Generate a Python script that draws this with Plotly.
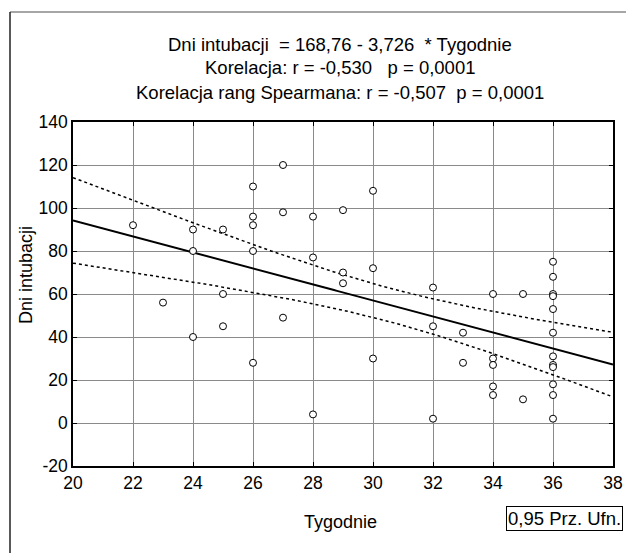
import numpy as np
import plotly.graph_objects as go

# Data
tygodnie = [22, 23, 24, 24, 24, 25, 25, 25, 26, 26, 26, 26, 26, 27, 27, 27,
            28, 28, 28, 29, 29, 29, 30, 30, 30, 32, 32, 32, 33, 33,
            34, 34, 34, 34, 34, 35, 35,
            36, 36, 36, 36, 36, 36, 36, 36, 36, 36, 36, 36]
dni_intubacji = [92, 56, 90, 80, 40, 90, 60, 45, 110, 96, 92, 80, 28, 120, 98, 49,
                 96, 77, 4, 99, 70, 65, 108, 72, 30, 63, 45, 2, 42, 28,
                 60, 30, 27, 17, 13, 60, 11,
                 75, 68, 60, 59, 53, 42, 31, 27, 26, 18, 13, 2]

# Regression coefficients printed on the chart
intercept = 168.76
slope = -3.726
t_crit = 2.01  # ~t(0.975, n-2)

x_ticks = [20, 22, 24, 26, 28, 30, 32, 34, 36, 38]
y_ticks = [-20, 0, 20, 40, 60, 80, 100, 120, 140]

NB = "\u00a0"
title_lines = [
    "Dni intubacji" + NB * 2 + "= 168,76 - 3,726" + NB * 2 + "* Tygodnie",
    "Korelacja: r = -0,530" + NB * 3 + "p = 0,0001",
    "Korelacja rang Spearmana: r = -0,507" + NB * 2 + "p = 0,0001",
]

# Confidence band for the regression line
xa = np.array(tygodnie, dtype=float)
ya = np.array(dni_intubacji, dtype=float)
n = len(xa)
resid = ya - (intercept + slope * xa)
s = np.sqrt(np.sum(resid ** 2) / (n - 2))
xbar = xa.mean()
sxx = np.sum((xa - xbar) ** 2)
xl = np.linspace(20, 38, 181)
yl = intercept + slope * xl
half = t_crit * s * np.sqrt(1.0 / n + (xl - xbar) ** 2 / sxx)

FONT = "Liberation Sans, Arial, Helvetica, sans-serif"
FS_TICK = 17.5
FS_TEXT = 18.5

fig = go.Figure()
fig.add_trace(go.Scatter(x=xl, y=yl + half, mode="lines",
                         line=dict(color="black", width=1.5, dash="dot"),
                         hoverinfo="skip", showlegend=False))
fig.add_trace(go.Scatter(x=xl, y=yl - half, mode="lines",
                         line=dict(color="black", width=1.5, dash="dot"),
                         hoverinfo="skip", showlegend=False))
fig.add_trace(go.Scatter(x=xl, y=yl, mode="lines",
                         line=dict(color="black", width=2),
                         hoverinfo="skip", showlegend=False))
fig.add_trace(go.Scatter(x=tygodnie, y=dni_intubacji, mode="markers",
                         marker=dict(symbol="circle", size=7, color="white",
                                     line=dict(color="black", width=1)),
                         showlegend=False))

# The page body adds an 8px offset; work in page pixels and compensate.
OFF = 8
W, H = 634 - OFF, 553 - OFF
# plot area in page pixels: x 73..613, y 122..466
L = 73 - OFF
T = 122 - OFF
R = 634 - 613
B = 553 - 466
pw = W - L - R
ph = H - T - B


def px_x(p):
    return (p - OFF - L) / pw


def px_y(p):
    return (H - B - (p - OFF)) / ph


annotations = []
for i, line in enumerate(title_lines):
    annotations.append(dict(text=line, x=px_x(340), y=px_y(44 + 24 * i),
                            xref="paper", yref="paper", showarrow=False,
                            xanchor="center", yanchor="middle",
                            font=dict(family=FONT, size=FS_TEXT, color="black")))
annotations.append(dict(text="Tygodnie", x=px_x(340), y=px_y(522), xref="paper", yref="paper",
                        showarrow=False, xanchor="center", yanchor="middle",
                        font=dict(family=FONT, size=18, color="black")))
annotations.append(dict(text="Dni intubacji", x=px_x(26), y=px_y(275), xref="paper",
                        yref="paper", showarrow=False, textangle=-90,
                        xanchor="center", yanchor="middle",
                        font=dict(family=FONT, size=18, color="black")))
annotations.append(dict(text="0,95 Prz. Ufn.", x=px_x(623), y=px_y(518.5), xref="paper",
                        yref="paper", showarrow=False, xanchor="right", yanchor="middle",
                        bordercolor="black", borderwidth=1, borderpad=1, bgcolor="white",
                        font=dict(family=FONT, size=FS_TEXT, color="black")))

shapes = [
    dict(type="line", xref="paper", yref="paper", x0=px_x(10), x1=px_x(640),
         y0=px_y(12), y1=px_y(12), line=dict(color="#888888", width=1.5)),
    dict(type="line", xref="paper", yref="paper", x0=px_x(10), x1=px_x(10),
         y0=px_y(12), y1=px_y(560), line=dict(color="#222222", width=1.5)),
]

axis_common = dict(showgrid=True, gridcolor="#8a8a8a", gridwidth=1,
                   showline=True, linecolor="black", linewidth=1.5, mirror="ticks",
                   ticks="inside", ticklen=4, tickcolor="black",
                   zeroline=False, tickfont=dict(family=FONT, size=FS_TICK, color="black"))

fig.update_layout(
    width=W, height=H,
    margin=dict(l=L, r=R, t=T, b=B),
    paper_bgcolor="white", plot_bgcolor="white",
    xaxis=dict(range=[20, 38], tickvals=x_ticks, ticktext=[str(v) for v in x_ticks], **axis_common),
    yaxis=dict(range=[-20, 140], tickvals=y_ticks, ticktext=[str(v) for v in y_ticks], **axis_common),
    annotations=annotations,
    shapes=shapes,
    showlegend=False,
)

fig.write_html("out.html")
